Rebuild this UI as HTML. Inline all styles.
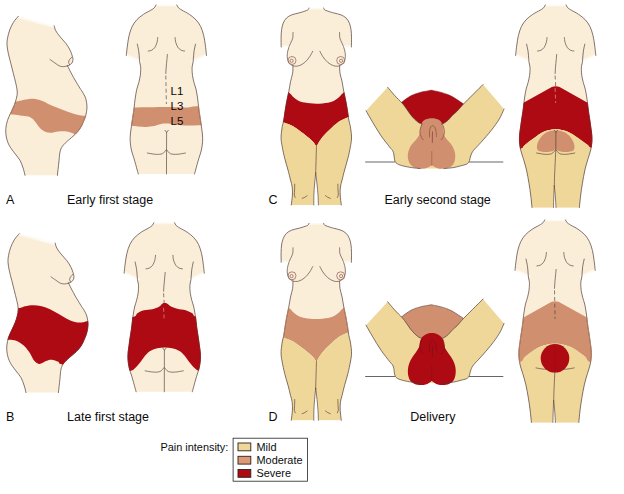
<!DOCTYPE html>
<html lang="en">
<head>
<meta charset="utf-8">
<title>Pain intensity by stage of labor</title>
<style>
html,body{margin:0;padding:0;background:#fff;}
body{width:624px;height:494px;overflow:hidden;position:relative;font-family:"Liberation Sans",Arial,sans-serif;}
svg{position:absolute;left:0;top:0;display:block;}
text{font-family:"Liberation Sans",Arial,sans-serif;}
.lbl{font-size:12.5px;fill:#0c0c0c;}
.leg{font-size:10.9px;fill:#0c0c0c;}
.vert{font-size:11.5px;fill:#0a0605;}
.o{fill:none;stroke:#4d3a36;stroke-width:0.7;stroke-linecap:round;stroke-linejoin:round;}
.i{fill:none;stroke:#503d38;stroke-width:0.65;stroke-linecap:round;stroke-linejoin:round;}
</style>
</head>
<body>
<svg width="624" height="494" viewBox="0 0 624 494">
<rect width="624" height="494" fill="#fff"/>
<defs>
<path id="sideB" d="M18.3 16.3C17.5 17.3 14.7 20.2 13.3 22.5C11.9 24.8 10.7 27.4 9.7 30C8.7 32.6 8 35.8 7.5 38.3C7 40.8 6.9 42.5 7 45C7.1 47.5 7.7 50.2 8.3 53.3C8.9 56.3 10 60 10.8 63.3C11.6 66.6 12.5 70 13.3 73.3C14.1 76.6 15.1 80.2 15.8 83.3C16.5 86.4 17.2 89.4 17.3 92C17.4 94.6 16.8 96.5 16.3 98.7C15.8 100.9 15.1 103 14.2 105.3C13.3 107.6 11.9 110.3 10.8 112.8C9.7 115.3 8.3 117.7 7.5 120.3C6.7 122.9 6 125.9 5.8 128.7C5.6 131.5 5.7 134.2 6.3 137C6.9 139.8 7.7 142.5 9.2 145.3C10.6 148.1 13.2 151.2 15 153.7C16.8 156.2 18.6 157.8 20 160.3C21.4 162.8 22.5 166.2 23.3 168.7C24.1 171.2 24.7 174.2 25 175.3L57.4 175.3C57.6 173.1 58.5 165.9 58.9 162C59.3 158.1 59.4 154.6 60 152C60.6 149.4 61.1 148.1 62.5 146.2C63.9 144.2 66.2 142.2 68.3 140.3C70.4 138.4 73 136.4 75 134.5C77 132.6 78.6 130.8 80 128.7C81.4 126.6 82.3 124.2 83.3 122C84.3 119.8 85.2 117.8 85.8 115.3C86.4 112.8 87 109.8 87 107C87 104.2 86.5 101.2 85.8 98.7C85 96.2 83.5 93.7 82.5 92C81.5 90.3 81.2 90.3 80 88.3C78.8 86.3 76.7 82.9 75 80C73.3 77.1 71.2 73.2 70 70.8C68.8 68.4 67.9 66.6 67.5 65.8L67.5 65.8C67.8 65.7 68.5 65.6 69.2 65.2C69.9 64.8 71.1 64.1 71.7 63.3C72.3 62.5 72.8 61.6 72.9 60.5C73 59.4 73 58.5 72.5 56.7C72 55 71.1 52.2 70 50C68.9 47.8 67.5 45.5 65.8 43.3C64.1 41.1 61.7 38.8 60 36.7C58.3 34.6 56.8 32.6 55.8 30.8C54.8 29 54.5 26.6 54.2 25.8Z"/>
<clipPath id="sideBC"><use href="#sideB"/></clipPath>
<path id="sideO" d="M18.3 16.3C17.5 17.3 14.7 20.2 13.3 22.5C11.9 24.8 10.7 27.4 9.7 30C8.7 32.6 8 35.8 7.5 38.3C7 40.8 6.9 42.5 7 45C7.1 47.5 7.7 50.2 8.3 53.3C8.9 56.3 10 60 10.8 63.3C11.6 66.6 12.5 70 13.3 73.3C14.1 76.6 15.1 80.2 15.8 83.3C16.5 86.4 17.2 89.4 17.3 92C17.4 94.6 16.8 96.5 16.3 98.7C15.8 100.9 15.1 103 14.2 105.3C13.3 107.6 11.9 110.3 10.8 112.8C9.7 115.3 8.3 117.7 7.5 120.3C6.7 122.9 6 125.9 5.8 128.7C5.6 131.5 5.7 134.2 6.3 137C6.9 139.8 7.7 142.5 9.2 145.3C10.6 148.1 13.2 151.2 15 153.7C16.8 156.2 18.6 157.8 20 160.3C21.4 162.8 22.5 166.2 23.3 168.7C24.1 171.2 24.7 174.2 25 175.3M54.2 25.8C54.5 26.6 54.8 29 55.8 30.8C56.8 32.6 58.3 34.6 60 36.7C61.7 38.8 64.1 41.1 65.8 43.3C67.5 45.5 68.9 47.8 70 50C71.1 52.2 72 55 72.5 56.7C73 58.5 73 59.4 72.9 60.5C72.8 61.6 72.3 62.5 71.7 63.3C71.1 64.1 69.9 64.8 69.2 65.2C68.5 65.6 67.8 65.7 67.5 65.8M67.5 65.8C67.9 66.6 68.8 68.4 70 70.8C71.2 73.2 73.3 77.1 75 80C76.7 82.9 78.8 86.3 80 88.3C81.2 90.3 81.5 90.3 82.5 92C83.5 93.7 85 96.2 85.8 98.7C86.5 101.2 87 104.2 87 107C87 109.8 86.4 112.8 85.8 115.3C85.2 117.8 84.3 119.8 83.3 122C82.3 124.2 81.4 126.6 80 128.7C78.6 130.8 77 132.6 75 134.5C73 136.4 70.4 138.4 68.3 140.3C66.2 142.2 63.9 144.2 62.5 146.2C61.1 148.1 60.6 149.4 60 152C59.4 154.6 59.3 158.1 58.9 162C58.5 165.9 57.6 173.1 57.4 175.3"/>
<path id="sideL" d="M50 59.5C50.8 60.1 53.5 62 55 63C56.5 64 57.8 65.2 59.2 65.8C60.6 66.4 61.9 66.7 63.3 66.7C64.7 66.7 66.8 66 67.5 65.8M71.8 57.2C71.4 57.6 70.1 58.6 69.6 59.5C69.1 60.4 68.6 61.4 68.6 62.3C68.6 63.1 69.4 64.2 69.6 64.6"/>
<clipPath id="r1"><path d="M3 103C5.1 102.8 12.4 102.1 15.8 101.6C19.2 101.1 20.4 100.5 23.3 100C26.2 99.5 30.2 98.7 33.3 98.8C36.4 98.9 38.9 99.8 41.7 100.8C44.5 101.8 47 103.4 50 104.7C53 106 56.7 107.5 60 108.8C63.3 110.1 67 111.5 70 112.5C73 113.5 75.9 114.5 78.3 115C80.7 115.5 81.9 115.7 84.2 115.8C86.5 115.9 90.7 115.6 92 115.6L92 126C90.1 126.4 83.1 127.1 80.5 128.5C77.9 129.9 77.6 133.4 76.2 134.2C74.8 134.9 73.6 133.4 72 133C70.4 132.6 69 131.8 66.7 131.6C64.4 131.3 61.1 131.3 58.3 131.5C55.5 131.7 52.5 132.9 50 132.8C47.5 132.7 45.2 131.9 43.3 130.8C41.3 129.7 40 127.9 38.3 126C36.6 124.1 35 121.2 33.3 119.6C31.6 118 30.5 117.3 28.3 116.6C26.1 115.9 23 115.9 20 115.5C17 115.1 13.1 114.5 10.3 114.3C7.5 114 4.2 114 3 114Z"/></clipPath>
<path id="r1p" d="M3 103C5.1 102.8 12.4 102.1 15.8 101.6C19.2 101.1 20.4 100.5 23.3 100C26.2 99.5 30.2 98.7 33.3 98.8C36.4 98.9 38.9 99.8 41.7 100.8C44.5 101.8 47 103.4 50 104.7C53 106 56.7 107.5 60 108.8C63.3 110.1 67 111.5 70 112.5C73 113.5 75.9 114.5 78.3 115C80.7 115.5 81.9 115.7 84.2 115.8C86.5 115.9 90.7 115.6 92 115.6L92 126C90.1 126.4 83.1 127.1 80.5 128.5C77.9 129.9 77.6 133.4 76.2 134.2C74.8 134.9 73.6 133.4 72 133C70.4 132.6 69 131.8 66.7 131.6C64.4 131.3 61.1 131.3 58.3 131.5C55.5 131.7 52.5 132.9 50 132.8C47.5 132.7 45.2 131.9 43.3 130.8C41.3 129.7 40 127.9 38.3 126C36.6 124.1 35 121.2 33.3 119.6C31.6 118 30.5 117.3 28.3 116.6C26.1 115.9 23 115.9 20 115.5C17 115.1 13.1 114.5 10.3 114.3C7.5 114 4.2 114 3 114Z"/>
<clipPath id="r2"><path d="M3 92C5.4 91.8 14.2 91.5 17.7 91C21.2 90.5 21.6 89.5 24 89C26.4 88.5 29.5 87.9 32.3 87.9C35.1 87.9 37.9 88.3 40.7 89C43.5 89.7 46.2 90.7 49 91.9C51.8 93.2 54.5 94.9 57.3 96.5C60.1 98.1 62.9 100 65.7 101.4C68.5 102.8 71.5 104.2 74 104.8C76.5 105.4 78.7 105.3 80.7 105.2C82.7 105.1 84.1 104.4 86 104C87.9 103.6 91 103.2 92 103L92 150C86.9 149.5 67.3 148.1 61.5 147.2C55.7 146.3 59.1 145.2 57.3 144.4C55.5 143.6 52.6 142.6 50.7 142.4C48.8 142.2 47.4 142.9 45.7 143.5C44 144.1 42.1 145.5 40.7 146C39.3 146.5 38.5 146.8 37.3 146.4C36 146 34.6 145.2 33.2 143.5C31.8 141.8 30.5 138.3 29 136C27.5 133.7 25.9 131.3 24 129.4C22.1 127.5 19.4 125.5 17.3 124.4C15.2 123.3 13.9 123 11.5 122.7C9.1 122.4 4.4 122.5 3 122.5Z"/></clipPath>
<path id="r2p" d="M3 92C5.4 91.8 14.2 91.5 17.7 91C21.2 90.5 21.6 89.5 24 89C26.4 88.5 29.5 87.9 32.3 87.9C35.1 87.9 37.9 88.3 40.7 89C43.5 89.7 46.2 90.7 49 91.9C51.8 93.2 54.5 94.9 57.3 96.5C60.1 98.1 62.9 100 65.7 101.4C68.5 102.8 71.5 104.2 74 104.8C76.5 105.4 78.7 105.3 80.7 105.2C82.7 105.1 84.1 104.4 86 104C87.9 103.6 91 103.2 92 103L92 150C86.9 149.5 67.3 148.1 61.5 147.2C55.7 146.3 59.1 145.2 57.3 144.4C55.5 143.6 52.6 142.6 50.7 142.4C48.8 142.2 47.4 142.9 45.7 143.5C44 144.1 42.1 145.5 40.7 146C39.3 146.5 38.5 146.8 37.3 146.4C36 146 34.6 145.2 33.2 143.5C31.8 141.8 30.5 138.3 29 136C27.5 133.7 25.9 131.3 24 129.4C22.1 127.5 19.4 125.5 17.3 124.4C15.2 123.3 13.9 123 11.5 122.7C9.1 122.4 4.4 122.5 3 122.5Z"/>
<linearGradient id="g1" gradientUnits="userSpaceOnUse" x1="18.3" y1="16.3" x2="17.6" y2="18.8"><stop offset="0" stop-color="#fff" stop-opacity="0.9"/><stop offset="1" stop-color="#fff" stop-opacity="0"/></linearGradient>
<path id="backSB" d="M156 5C155.7 5.5 155.2 6.9 154.3 7.8C153.4 8.7 152.6 9.1 150.8 10.2C149 11.3 145.7 12.8 143.4 14.4C141.1 16 138.7 17.8 136.8 19.8C134.9 21.8 133.4 24 132.1 26.6C130.8 29.2 129.9 32.4 129.1 35.5C128.3 38.6 128 41.7 127.5 45C127 48.3 126.5 53.7 126.3 55.4L139.5 61.5L139.7 62C139.8 62.8 140.4 65.1 140.6 66.5C140.8 67.9 140.8 69 140.7 70.5C140.6 72 140.6 73.5 140.3 75.5C140 77.5 139.4 80.2 138.8 82.5C138.2 84.8 137.4 86.8 136.8 89.2C136.2 91.6 135.8 94.7 135.4 97C135 99.3 134.9 100.8 134.6 103.3C134.3 105.8 134 108.9 133.6 111.7C133.2 114.5 132.7 117.3 132.3 120C131.9 122.7 131.5 125.7 131.2 128C130.9 130.3 130.6 131.7 130.4 134C130.2 136.3 130 139 130.2 141.7C130.4 144.4 130.8 147.2 131.4 150C132 152.8 133 155.2 134 158.5C135 161.8 136.5 167.4 137.2 170C137.9 172.6 138.1 173.3 138.3 174L194.5 174C194.7 173.3 194.9 172.6 195.6 170C196.3 167.4 197.8 161.8 198.8 158.5C199.8 155.2 200.8 152.8 201.4 150C202 147.2 202.4 144.4 202.6 141.7C202.8 139 202.6 136.3 202.4 134C202.2 131.7 201.9 130.3 201.6 128C201.3 125.7 200.9 122.7 200.5 120C200.1 117.3 199.6 114.5 199.2 111.7C198.8 108.9 198.5 105.8 198.2 103.3C197.9 100.8 197.8 99.3 197.4 97C197 94.7 196.6 91.6 196 89.2C195.4 86.8 194.6 84.8 194 82.5C193.4 80.2 192.8 77.5 192.5 75.5C192.2 73.5 192.2 72 192.1 70.5C192.1 69 192 67.9 192.2 66.5C192.4 65.1 193 62.8 193.1 62L193.5 61.5L206.5 55.4C206.3 53.7 205.8 48.3 205.3 45C204.8 41.7 204.5 38.6 203.7 35.5C202.9 32.4 202 29.2 200.7 26.6C199.4 24 197.9 21.8 196 19.8C194.1 17.8 191.7 16 189.4 14.4C187.1 12.8 183.8 11.3 182 10.2C180.2 9.1 179.4 8.7 178.5 7.8C177.6 6.9 177.1 5.5 176.8 5Z"/>
<clipPath id="backSBC"><use href="#backSB"/></clipPath>
<path id="backSO" d="M156 5C155.7 5.5 155.2 6.9 154.3 7.8C153.4 8.7 152.6 9.1 150.8 10.2C149 11.3 145.7 12.8 143.4 14.4C141.1 16 138.7 17.8 136.8 19.8C134.9 21.8 133.4 24 132.1 26.6C130.8 29.2 129.9 32.4 129.1 35.5C128.3 38.6 128 41.7 127.5 45C127 48.3 126.5 53.7 126.3 55.4M137.3 44.2C137.6 45.5 138.5 49.4 138.8 51.7C139.2 54.1 139.2 56.6 139.4 58.3C139.6 60 139.5 60.6 139.7 62C139.9 63.4 140.4 65.1 140.6 66.5C140.8 67.9 140.8 69 140.7 70.5C140.6 72 140.6 73.5 140.3 75.5C140 77.5 139.4 80.2 138.8 82.5C138.2 84.8 137.4 86.8 136.8 89.2C136.2 91.6 135.8 94.7 135.4 97C135 99.3 134.9 100.8 134.6 103.3C134.3 105.8 134 108.9 133.6 111.7C133.2 114.5 132.7 117.3 132.3 120C131.9 122.7 131.5 125.7 131.2 128C130.9 130.3 130.6 131.7 130.4 134C130.2 136.3 130 139 130.2 141.7C130.4 144.4 130.8 147.2 131.4 150C132 152.8 133 155.2 134 158.5C135 161.8 136.5 167.4 137.2 170C137.9 172.6 138.1 173.3 138.3 174M176.8 5C177.1 5.5 177.6 6.9 178.5 7.8C179.4 8.7 180.2 9.1 182 10.2C183.8 11.3 187.1 12.8 189.4 14.4C191.7 16 194.1 17.8 196 19.8C197.9 21.8 199.4 24 200.7 26.6C202 29.2 202.9 32.4 203.7 35.5C204.5 38.6 204.8 41.7 205.3 45C205.8 48.3 206.3 53.7 206.5 55.4M195.5 44.2C195.2 45.5 194.3 49.4 194 51.7C193.7 54.1 193.6 56.6 193.4 58.3C193.2 60 193.3 60.6 193.1 62C192.9 63.4 192.4 65.1 192.2 66.5C192 67.9 192.1 69 192.1 70.5C192.2 72 192.2 73.5 192.5 75.5C192.8 77.5 193.4 80.2 194 82.5C194.6 84.8 195.4 86.8 196 89.2C196.6 91.6 197 94.7 197.4 97C197.8 99.3 197.9 100.8 198.2 103.3C198.5 105.8 198.8 108.9 199.2 111.7C199.6 114.5 200.1 117.3 200.5 120C200.9 122.7 201.3 125.7 201.6 128C201.9 130.3 202.2 131.7 202.4 134C202.6 136.3 202.8 139 202.6 141.7C202.4 144.4 202 147.2 201.4 150C200.8 152.8 199.8 155.2 198.8 158.5C197.8 161.8 196.3 167.4 195.6 170C194.9 172.6 194.7 173.3 194.5 174"/>
<path id="backSL" d="M157.7 37.5C157.6 38.3 157.5 40.8 157 42.5C156.5 44.2 155.7 46.2 154.8 47.5C153.9 48.8 152.6 49.7 151.5 50.3C150.4 50.9 148.8 50.9 148.2 51M147.3 153C148.7 153.2 153.2 154.2 155.7 154.3C158.2 154.4 160.6 154.4 162.3 153.7C164 153 165.4 150.6 166 150M175.1 37.5C175.2 38.3 175.3 40.8 175.8 42.5C176.3 44.2 177.1 46.2 178 47.5C178.9 48.8 180.2 49.7 181.3 50.3C182.4 50.9 184.1 50.9 184.6 51M185.5 153C184.1 153.2 179.6 154.2 177.1 154.3C174.6 154.4 172.2 154.4 170.5 153.7C168.8 153 167.4 150.6 166.8 150M167.4 54.5C167 60 166.1 66 165.8 73.5M165 130.3L166.6 132.4L168.3 130.3M166.6 132.4L166.5 174"/>
<path id="backLB" d="M156 5C155.7 5.5 155.2 6.9 154.3 7.8C153.4 8.7 152.6 9.1 150.8 10.2C149 11.3 145.7 12.8 143.4 14.4C141.1 16 138.7 17.8 136.8 19.8C134.9 21.8 133.4 24 132.1 26.6C130.8 29.2 129.9 32.4 129.1 35.5C128.3 38.6 128 41.7 127.5 45C127 48.3 126.5 53.7 126.3 55.4L139.5 61.5L139.7 62C139.8 62.8 140.4 65.1 140.6 66.5C140.8 67.9 140.8 69 140.7 70.5C140.6 72 140.6 73.5 140.3 75.5C140 77.5 139.4 80.2 138.8 82.5C138.2 84.8 137.4 86.8 136.8 89.2C136.2 91.6 135.8 94.7 135.4 97C135 99.3 134.9 100.8 134.6 103.3C134.3 105.8 134 108.9 133.6 111.7C133.2 114.5 132.7 117.3 132.3 120C131.9 122.7 131.5 125.7 131.2 128C130.9 130.3 130.6 131.7 130.4 134C130.2 136.3 130 139 130.2 141.7C130.4 144.4 130.8 147.2 131.4 150C132 152.8 133 155.2 134 158.5C135 161.8 136.2 165.9 137.2 170C138.1 174.1 139 179.1 139.7 183.3C140.4 187.5 140.9 191 141.4 195C141.9 199 142.5 205.4 142.7 207.5L164.2 207.5C164.2 205.6 164.4 199.6 164.5 196C164.6 192.4 164.9 187.7 165 186L165 186C165.2 187.7 165.7 192.4 166 196C166.3 199.6 166.6 205.6 166.7 207.5L190.1 207.5C190.3 205.4 190.9 199 191.4 195C191.9 191 192.4 187.5 193.1 183.3C193.8 179.1 194.7 174.1 195.6 170C196.6 165.9 197.8 161.8 198.8 158.5C199.8 155.2 200.8 152.8 201.4 150C202 147.2 202.4 144.4 202.6 141.7C202.8 139 202.6 136.3 202.4 134C202.2 131.7 201.9 130.3 201.6 128C201.3 125.7 200.9 122.7 200.5 120C200.1 117.3 199.6 114.5 199.2 111.7C198.8 108.9 198.5 105.8 198.2 103.3C197.9 100.8 197.8 99.3 197.4 97C197 94.7 196.6 91.6 196 89.2C195.4 86.8 194.6 84.8 194 82.5C193.4 80.2 192.8 77.5 192.5 75.5C192.2 73.5 192.2 72 192.1 70.5C192.1 69 192 67.9 192.2 66.5C192.4 65.1 193 62.8 193.1 62L193.5 61.5L206.5 55.4C206.3 53.7 205.8 48.3 205.3 45C204.8 41.7 204.5 38.6 203.7 35.5C202.9 32.4 202 29.2 200.7 26.6C199.4 24 197.9 21.8 196 19.8C194.1 17.8 191.7 16 189.4 14.4C187.1 12.8 183.8 11.3 182 10.2C180.2 9.1 179.4 8.7 178.5 7.8C177.6 6.9 177.1 5.5 176.8 5Z"/>
<clipPath id="backLBC"><use href="#backLB"/></clipPath>
<path id="backLO" d="M156 5C155.7 5.5 155.2 6.9 154.3 7.8C153.4 8.7 152.6 9.1 150.8 10.2C149 11.3 145.7 12.8 143.4 14.4C141.1 16 138.7 17.8 136.8 19.8C134.9 21.8 133.4 24 132.1 26.6C130.8 29.2 129.9 32.4 129.1 35.5C128.3 38.6 128 41.7 127.5 45C127 48.3 126.5 53.7 126.3 55.4M137.3 44.2C137.6 45.5 138.5 49.4 138.8 51.7C139.2 54.1 139.2 56.6 139.4 58.3C139.6 60 139.5 60.6 139.7 62C139.9 63.4 140.4 65.1 140.6 66.5C140.8 67.9 140.8 69 140.7 70.5C140.6 72 140.6 73.5 140.3 75.5C140 77.5 139.4 80.2 138.8 82.5C138.2 84.8 137.4 86.8 136.8 89.2C136.2 91.6 135.8 94.7 135.4 97C135 99.3 134.9 100.8 134.6 103.3C134.3 105.8 134 108.9 133.6 111.7C133.2 114.5 132.7 117.3 132.3 120C131.9 122.7 131.5 125.7 131.2 128C130.9 130.3 130.6 131.7 130.4 134C130.2 136.3 130 139 130.2 141.7C130.4 144.4 130.8 147.2 131.4 150C132 152.8 133 155.2 134 158.5C135 161.8 136.2 165.9 137.2 170C138.1 174.1 139 179.1 139.7 183.3C140.4 187.5 140.9 191 141.4 195C141.9 199 142.5 205.4 142.7 207.5M176.8 5C177.1 5.5 177.6 6.9 178.5 7.8C179.4 8.7 180.2 9.1 182 10.2C183.8 11.3 187.1 12.8 189.4 14.4C191.7 16 194.1 17.8 196 19.8C197.9 21.8 199.4 24 200.7 26.6C202 29.2 202.9 32.4 203.7 35.5C204.5 38.6 204.8 41.7 205.3 45C205.8 48.3 206.3 53.7 206.5 55.4M195.5 44.2C195.2 45.5 194.3 49.4 194 51.7C193.7 54.1 193.6 56.6 193.4 58.3C193.2 60 193.3 60.6 193.1 62C192.9 63.4 192.4 65.1 192.2 66.5C192 67.9 192.1 69 192.1 70.5C192.2 72 192.2 73.5 192.5 75.5C192.8 77.5 193.4 80.2 194 82.5C194.6 84.8 195.4 86.8 196 89.2C196.6 91.6 197 94.7 197.4 97C197.8 99.3 197.9 100.8 198.2 103.3C198.5 105.8 198.8 108.9 199.2 111.7C199.6 114.5 200.1 117.3 200.5 120C200.9 122.7 201.3 125.7 201.6 128C201.9 130.3 202.2 131.7 202.4 134C202.6 136.3 202.8 139 202.6 141.7C202.4 144.4 202 147.2 201.4 150C200.8 152.8 199.8 155.2 198.8 158.5C197.8 161.8 196.6 165.9 195.6 170C194.7 174.1 193.8 179.1 193.1 183.3C192.4 187.5 191.9 191 191.4 195C190.9 199 190.3 205.4 190.1 207.5"/>
<path id="backLL" d="M157.7 37.5C157.6 38.3 157.5 40.8 157 42.5C156.5 44.2 155.7 46.2 154.8 47.5C153.9 48.8 152.6 49.7 151.5 50.3C150.4 50.9 148.8 50.9 148.2 51M147.3 153C148.7 153.2 153.2 154.2 155.7 154.3C158.2 154.4 160.6 154.4 162.3 153.7C164 153 165.4 150.6 166 150M175.1 37.5C175.2 38.3 175.3 40.8 175.8 42.5C176.3 44.2 177.1 46.2 178 47.5C178.9 48.8 180.2 49.7 181.3 50.3C182.4 50.9 184.1 50.9 184.6 51M185.5 153C184.1 153.2 179.6 154.2 177.1 154.3C174.6 154.4 172.2 154.4 170.5 153.7C168.8 153 167.4 150.6 166.8 150M167.4 54.5C167 60 166.1 66 165.8 73.5M165 130.3L166.6 132.4L168.3 130.3M166.6 132.4L166.5 150M166.5 150C166.4 151.7 166.2 155.8 166 160C165.8 164.2 165.5 170.7 165.3 175C165.1 179.3 165.1 184.2 165 186M165 186C164.9 187.7 164.6 192.4 164.5 196C164.4 199.6 164.2 205.6 164.2 207.5M165 186C165.2 187.7 165.7 192.4 166 196C166.3 199.6 166.6 205.6 166.7 207.5"/>
<linearGradient id="g2" gradientUnits="userSpaceOnUse" x1="154" y1="5" x2="154" y2="7"><stop offset="0" stop-color="#fff" stop-opacity="0.9"/><stop offset="1" stop-color="#fff" stop-opacity="0"/></linearGradient>
<linearGradient id="g3" gradientUnits="userSpaceOnUse" x1="126.3" y1="55.4" x2="127.3" y2="53.2"><stop offset="0" stop-color="#fff" stop-opacity="0.9"/><stop offset="1" stop-color="#fff" stop-opacity="0"/></linearGradient>
<linearGradient id="g4" gradientUnits="userSpaceOnUse" x1="193.3" y1="61.5" x2="192.3" y2="59.3"><stop offset="0" stop-color="#fff" stop-opacity="0.9"/><stop offset="1" stop-color="#fff" stop-opacity="0"/></linearGradient>
<clipPath id="r3"><path d="M120 107.6C122.5 107.6 130 107.5 135 107.4C140 107.4 144.8 107.4 150 107.3C155.2 107.2 160.2 107 166 107C171.8 107 180 107.7 185 107.6C190 107.5 191.5 106.6 196 106.2C200.5 105.8 209.3 105.2 212 105L212 125C209.8 125 203.5 125.1 199 125.2C194.5 125.3 189.5 125.7 185 125.5C180.5 125.3 175.2 124.3 172 124C168.8 123.7 167.8 123.6 166 123.6C164.2 123.6 163.3 123.5 161 123.9C158.7 124.4 154.7 125.8 152 126.3C149.3 126.8 147.3 127 145 127.1C142.7 127.1 140.3 126.8 138 126.6C135.7 126.4 134 126 131 125.8C128 125.6 121.8 125.5 120 125.5Z"/></clipPath>
<path id="r3p" d="M120 107.6C122.5 107.6 130 107.5 135 107.4C140 107.4 144.8 107.4 150 107.3C155.2 107.2 160.2 107 166 107C171.8 107 180 107.7 185 107.6C190 107.5 191.5 106.6 196 106.2C200.5 105.8 209.3 105.2 212 105L212 125C209.8 125 203.5 125.1 199 125.2C194.5 125.3 189.5 125.7 185 125.5C180.5 125.3 175.2 124.3 172 124C168.8 123.7 167.8 123.6 166 123.6C164.2 123.6 163.3 123.5 161 123.9C158.7 124.4 154.7 125.8 152 126.3C149.3 126.8 147.3 127 145 127.1C142.7 127.1 140.3 126.8 138 126.6C135.7 126.4 134 126 131 125.8C128 125.6 121.8 125.5 120 125.5Z"/>
<clipPath id="r4"><path d="M120 99.5C122.7 99.4 132.9 99.6 136.2 98.9C139.4 98.2 137.8 96.6 139.5 95.5C141.2 94.4 143.7 93.2 146.2 92.5C148.7 91.8 152 92 154.5 91.4C157 90.8 159.5 89.8 161.2 88.9C162.9 88 163.5 86.5 164.5 85.9C165.5 85.3 166.2 85.3 167 85.3C167.8 85.3 168.4 85.3 169.5 85.9C170.6 86.5 172 88.1 173.7 88.9C175.4 89.7 177.1 90.3 179.5 90.9C181.9 91.5 185.4 91.7 187.9 92.5C190.4 93.3 192.8 94.4 194.5 95.5C196.2 96.6 195 98.2 197.9 98.9C200.8 99.6 209.7 99.4 212 99.5L212 153.5C210.2 153.4 203.8 153.6 201.2 153C198.6 152.4 197.9 151.2 196.2 149.7C194.5 148.2 192.9 146 191.2 143.9C189.5 141.8 187.9 139 186.2 137.2C184.5 135.4 183.1 134.1 181.2 133C179.2 131.9 176.9 131.1 174.5 130.5C172.1 129.9 169.5 129.7 167 129.7C164.5 129.7 161.8 129.9 159.5 130.5C157.2 131.1 154.8 131.9 152.9 133C151 134.1 149.6 135.4 147.9 137.2C146.2 139 144.6 141.8 142.9 143.9C141.2 146 139.6 148.2 137.9 149.7C136.2 151.2 135.9 152.4 132.9 153C129.9 153.6 122.2 153.4 120 153.5Z"/></clipPath>
<path id="r4p" d="M120 99.5C122.7 99.4 132.9 99.6 136.2 98.9C139.4 98.2 137.8 96.6 139.5 95.5C141.2 94.4 143.7 93.2 146.2 92.5C148.7 91.8 152 92 154.5 91.4C157 90.8 159.5 89.8 161.2 88.9C162.9 88 163.5 86.5 164.5 85.9C165.5 85.3 166.2 85.3 167 85.3C167.8 85.3 168.4 85.3 169.5 85.9C170.6 86.5 172 88.1 173.7 88.9C175.4 89.7 177.1 90.3 179.5 90.9C181.9 91.5 185.4 91.7 187.9 92.5C190.4 93.3 192.8 94.4 194.5 95.5C196.2 96.6 195 98.2 197.9 98.9C200.8 99.6 209.7 99.4 212 99.5L212 153.5C210.2 153.4 203.8 153.6 201.2 153C198.6 152.4 197.9 151.2 196.2 149.7C194.5 148.2 192.9 146 191.2 143.9C189.5 141.8 187.9 139 186.2 137.2C184.5 135.4 183.1 134.1 181.2 133C179.2 131.9 176.9 131.1 174.5 130.5C172.1 129.9 169.5 129.7 167 129.7C164.5 129.7 161.8 129.9 159.5 130.5C157.2 131.1 154.8 131.9 152.9 133C151 134.1 149.6 135.4 147.9 137.2C146.2 139 144.6 141.8 142.9 143.9C141.2 146 139.6 148.2 137.9 149.7C136.2 151.2 135.9 152.4 132.9 153C129.9 153.6 122.2 153.4 120 153.5Z"/>
<clipPath id="r5"><path d="M110 116.4L162.5 87Q166.4 85.6 170.3 87L222.8 116.4L222 152C218.7 151.3 206.2 149 202.3 147.8C198.4 146.6 200 146.1 198.5 145C197 143.9 195.2 142.6 193.3 141.2C191.4 139.8 189 138.1 186.9 136.7C184.8 135.3 182.6 133.9 180.5 132.8C178.4 131.7 176.4 130.9 174.1 130.3C171.8 129.7 169 129.2 166.4 129.2C163.8 129.2 161 129.7 158.7 130.3C156.3 130.9 154.4 131.7 152.3 132.8C150.2 134 148 135.7 145.9 137.2C143.8 138.7 141.4 140.3 139.5 141.8C137.6 143.3 135.9 144.8 134.5 146C133.1 147.2 135.1 147.8 131 148.8C126.9 149.8 113.5 151.5 110 152Z"/></clipPath>
<path id="r5p" d="M110 116.4L162.5 87Q166.4 85.6 170.3 87L222.8 116.4L222 152C218.7 151.3 206.2 149 202.3 147.8C198.4 146.6 200 146.1 198.5 145C197 143.9 195.2 142.6 193.3 141.2C191.4 139.8 189 138.1 186.9 136.7C184.8 135.3 182.6 133.9 180.5 132.8C178.4 131.7 176.4 130.9 174.1 130.3C171.8 129.7 169 129.2 166.4 129.2C163.8 129.2 161 129.7 158.7 130.3C156.3 130.9 154.4 131.7 152.3 132.8C150.2 134 148 135.7 145.9 137.2C143.8 138.7 141.4 140.3 139.5 141.8C137.6 143.3 135.9 144.8 134.5 146C133.1 147.2 135.1 147.8 131 148.8C126.9 149.8 113.5 151.5 110 152Z"/>
<clipPath id="r6"><path d="M110 152C113.5 151.5 126.9 149.8 131 148.8C135.1 147.8 133.1 147.2 134.5 146C135.9 144.8 137.6 143.3 139.5 141.8C141.4 140.3 143.8 138.7 145.9 137.2C148 135.7 150.2 134 152.3 132.8C154.4 131.7 156.3 130.9 158.7 130.3C161 129.7 163.8 129.2 166.4 129.2C169 129.2 171.8 129.7 174.1 130.3C176.4 130.9 178.4 131.7 180.5 132.8C182.6 133.9 184.8 135.3 186.9 136.7C189 138.1 191.4 139.8 193.3 141.2C195.2 142.6 197 143.9 198.5 145C200 146.1 198.4 146.6 202.3 147.8C206.2 149 218.7 151.3 222 152L222 212L110 212Z"/></clipPath>
<path id="r6p" d="M110 152C113.5 151.5 126.9 149.8 131 148.8C135.1 147.8 133.1 147.2 134.5 146C135.9 144.8 137.6 143.3 139.5 141.8C141.4 140.3 143.8 138.7 145.9 137.2C148 135.7 150.2 134 152.3 132.8C154.4 131.7 156.3 130.9 158.7 130.3C161 129.7 163.8 129.2 166.4 129.2C169 129.2 171.8 129.7 174.1 130.3C176.4 130.9 178.4 131.7 180.5 132.8C182.6 133.9 184.8 135.3 186.9 136.7C189 138.1 191.4 139.8 193.3 141.2C195.2 142.6 197 143.9 198.5 145C200 146.1 198.4 146.6 202.3 147.8C206.2 149 218.7 151.3 222 152L222 212L110 212Z"/>
<clipPath id="r7"><path d="M110 116.4L162.5 87Q166.4 85.6 170.3 87L222.8 116.4L222 150C218.6 149.6 206 148.9 201.7 147.6C197.4 146.2 198.4 143.7 196.4 141.9C194.4 140.1 192.2 138.5 189.7 136.8C187.2 135.1 184.2 133.1 181.4 131.9C178.6 130.7 175.5 129.9 173 129.4C170.5 128.9 168.6 128.9 166.4 128.9C164.2 128.9 162.2 128.9 159.7 129.4C157.2 129.9 154.2 130.7 151.4 131.9C148.6 133.1 145.5 135.1 143 136.8C140.5 138.5 138.5 140.1 136.4 141.9C134.3 143.7 135.1 146.5 130.7 147.8C126.3 149.2 113.5 149.6 110 150Z"/></clipPath>
<path id="r7p" d="M110 116.4L162.5 87Q166.4 85.6 170.3 87L222.8 116.4L222 150C218.6 149.6 206 148.9 201.7 147.6C197.4 146.2 198.4 143.7 196.4 141.9C194.4 140.1 192.2 138.5 189.7 136.8C187.2 135.1 184.2 133.1 181.4 131.9C178.6 130.7 175.5 129.9 173 129.4C170.5 128.9 168.6 128.9 166.4 128.9C164.2 128.9 162.2 128.9 159.7 129.4C157.2 129.9 154.2 130.7 151.4 131.9C148.6 133.1 145.5 135.1 143 136.8C140.5 138.5 138.5 140.1 136.4 141.9C134.3 143.7 135.1 146.5 130.7 147.8C126.3 149.2 113.5 149.6 110 150Z"/>
<clipPath id="r8"><path d="M110 150C113.5 149.6 126.3 149.2 130.7 147.8C135.1 146.5 134.3 143.7 136.4 141.9C138.5 140.1 140.5 138.5 143 136.8C145.5 135.1 148.6 133.1 151.4 131.9C154.2 130.7 157.2 129.9 159.7 129.4C162.2 128.9 164.2 128.9 166.4 128.9C168.6 128.9 170.5 128.9 173 129.4C175.5 129.9 178.6 130.7 181.4 131.9C184.2 133.1 187.2 135.1 189.7 136.8C192.2 138.5 194.4 140.1 196.4 141.9C198.4 143.7 197.4 146.2 201.7 147.6C206 148.9 218.6 149.6 222 150L222 212L110 212Z"/></clipPath>
<path id="r8p" d="M110 150C113.5 149.6 126.3 149.2 130.7 147.8C135.1 146.5 134.3 143.7 136.4 141.9C138.5 140.1 140.5 138.5 143 136.8C145.5 135.1 148.6 133.1 151.4 131.9C154.2 130.7 157.2 129.9 159.7 129.4C162.2 128.9 164.2 128.9 166.4 128.9C168.6 128.9 170.5 128.9 173 129.4C175.5 129.9 178.6 130.7 181.4 131.9C184.2 133.1 187.2 135.1 189.7 136.8C192.2 138.5 194.4 140.1 196.4 141.9C198.4 143.7 197.4 146.2 201.7 147.6C206 148.9 218.6 149.6 222 150L222 212L110 212Z"/>
<clipPath id="r9"><path d="M166.4 130.6C165.5 130.7 162.8 130.6 161 131.1C159.2 131.6 157.2 132.3 155.5 133.5C153.8 134.7 152.2 136.4 151 138C149.8 139.6 148.9 141.4 148.3 143C147.7 144.6 147.5 146.2 147.6 147.5C147.7 148.8 148 149.9 148.9 150.6C149.8 151.3 151.3 151.6 153 151.8C154.7 152 157.2 152 159 151.9C160.8 151.8 162.3 151.7 163.5 151.1C164.7 150.5 165.9 149 166.4 148.6ZM166.4 130.6C167.3 130.7 170 130.6 171.8 131.1C173.6 131.6 175.6 132.3 177.3 133.5C179 134.7 180.6 136.4 181.8 138C183 139.6 183.9 141.4 184.5 143C185.1 144.6 185.3 146.2 185.2 147.5C185.1 148.8 184.8 149.9 183.9 150.6C183 151.3 181.5 151.6 179.8 151.8C178.1 152 175.6 152 173.8 151.9C172.1 151.8 170.5 151.7 169.3 151.1C168.1 150.5 166.9 149 166.4 148.6Z"/></clipPath>
<path id="r9p" d="M166.4 130.6C165.5 130.7 162.8 130.6 161 131.1C159.2 131.6 157.2 132.3 155.5 133.5C153.8 134.7 152.2 136.4 151 138C149.8 139.6 148.9 141.4 148.3 143C147.7 144.6 147.5 146.2 147.6 147.5C147.7 148.8 148 149.9 148.9 150.6C149.8 151.3 151.3 151.6 153 151.8C154.7 152 157.2 152 159 151.9C160.8 151.8 162.3 151.7 163.5 151.1C164.7 150.5 165.9 149 166.4 148.6ZM166.4 130.6C167.3 130.7 170 130.6 171.8 131.1C173.6 131.6 175.6 132.3 177.3 133.5C179 134.7 180.6 136.4 181.8 138C183 139.6 183.9 141.4 184.5 143C185.1 144.6 185.3 146.2 185.2 147.5C185.1 148.8 184.8 149.9 183.9 150.6C183 151.3 181.5 151.6 179.8 151.8C178.1 152 175.6 152 173.8 151.9C172.1 151.8 170.5 151.7 169.3 151.1C168.1 150.5 166.9 149 166.4 148.6Z"/>
<path id="frontB" d="M308.9 8C308.8 8.2 308.8 8.9 308.4 9.3C308 9.7 308.2 9.9 306.6 10.5C305.1 11.1 301.6 12.2 299.1 12.9C296.6 13.6 293.7 14 291.6 14.9C289.5 15.8 287.8 16.7 286.4 18.1C285 19.5 284 21.3 283.2 23.2C282.4 25.1 282 27.2 281.6 29.6C281.2 32 281.2 34.4 281.1 37.3C281 40.2 281.2 45.4 281.2 47L288.6 47L288 50C287.9 51.1 287.1 54.6 287.2 56.7C287.3 58.8 287.8 61 288.8 62.5C289.8 64 292.3 65.2 293 65.8L293 65.8C292.9 67 293 70.6 292.6 73.3C292.2 76 291.1 78.6 290.5 81.7C289.9 84.8 289.4 88.4 288.8 91.7C288.2 95 287.3 98.4 286.7 101.7C286.1 105 285.5 108.7 285 111.7C284.5 114.8 284.3 117.5 283.8 120C283.3 122.5 282.6 124.5 282.2 126.7C281.8 128.9 281.5 131.2 281.3 133.3C281.1 135.4 281 136.8 281.1 139C281.2 141.2 281.6 143.5 282.2 146.7C282.8 149.9 283.7 154.4 284.7 158.3C285.7 162.2 287 166.4 288 170C289 173.6 289.8 177.2 290.5 180C291.2 182.8 291.9 184.5 292.2 187C292.5 189.5 292.5 192 292.4 195C292.2 198 291.5 203.3 291.3 205L313.8 205C313.8 203.3 313.8 198.5 313.9 195C314 191.5 314.3 187.7 314.6 184C314.9 180.3 315.5 174.8 315.7 173L315.7 173C315.9 174.8 316.6 180.3 317 184C317.4 187.7 317.8 191.5 318 195C318.2 198.5 318.3 203.3 318.4 205L341.3 205C341.1 203.3 340.4 198 340.2 195C340.1 192 340.1 189.5 340.4 187C340.7 184.5 341.4 182.8 342.1 180C342.8 177.2 343.6 173.6 344.6 170C345.6 166.4 346.9 162.2 347.9 158.3C348.9 154.4 349.8 149.9 350.4 146.7C351 143.5 351.4 141.2 351.5 139C351.6 136.8 351.5 135.4 351.3 133.3C351.1 131.2 350.8 128.9 350.4 126.7C350 124.5 349.3 122.5 348.8 120C348.3 117.5 348.1 114.8 347.6 111.7C347.1 108.7 346.5 105 345.9 101.7C345.3 98.4 344.4 95 343.8 91.7C343.2 88.4 342.7 84.8 342.1 81.7C341.5 78.6 340.4 76 340 73.3C339.6 70.6 339.7 67 339.6 65.8L339.6 65.8C340.3 65.2 342.8 64 343.8 62.5C344.8 61 345.3 58.8 345.4 56.7C345.5 54.6 344.7 51.1 344.6 50L344 47L351.4 47C351.4 45.4 351.6 40.2 351.5 37.3C351.4 34.4 351.4 32 351 29.6C350.6 27.2 350.2 25.1 349.4 23.2C348.6 21.3 347.6 19.5 346.2 18.1C344.8 16.7 343.1 15.8 341 14.9C338.9 14 336 13.6 333.5 12.9C331 12.2 327.6 11.1 326 10.5C324.4 9.9 324.6 9.7 324.2 9.3C323.8 8.9 323.8 8.2 323.7 8Z"/>
<clipPath id="frontBC"><use href="#frontB"/></clipPath>
<path id="frontO" d="M308.9 8C308.8 8.2 308.8 8.9 308.4 9.3C308 9.7 308.2 9.9 306.6 10.5C305.1 11.1 301.6 12.2 299.1 12.9C296.6 13.6 293.7 14 291.6 14.9C289.5 15.8 287.8 16.7 286.4 18.1C285 19.5 284 21.3 283.2 23.2C282.4 25.1 282 27.2 281.6 29.6C281.2 32 281.2 34.4 281.1 37.3C281 40.2 281.2 45.4 281.2 47M323.7 8C323.8 8.2 323.8 8.9 324.2 9.3C324.6 9.7 324.4 9.9 326 10.5C327.6 11.1 331 12.2 333.5 12.9C336 13.6 338.9 14 341 14.9C343.1 15.8 344.8 16.7 346.2 18.1C347.6 19.5 348.6 21.3 349.4 23.2C350.2 25.1 350.6 27.2 351 29.6C351.4 32 351.4 34.4 351.5 37.3C351.6 40.2 351.4 45.4 351.4 47M293 65.8C292.9 67 293 70.6 292.6 73.3C292.2 76 291.1 78.6 290.5 81.7C289.9 84.8 289.4 88.4 288.8 91.7C288.2 95 287.3 98.4 286.7 101.7C286.1 105 285.5 108.7 285 111.7C284.5 114.8 284.3 117.5 283.8 120C283.3 122.5 282.6 124.5 282.2 126.7C281.8 128.9 281.5 131.2 281.3 133.3C281.1 135.4 281 136.8 281.1 139C281.2 141.2 281.6 143.5 282.2 146.7C282.8 149.9 283.7 154.4 284.7 158.3C285.7 162.2 287 166.4 288 170C289 173.6 289.8 177.2 290.5 180C291.2 182.8 291.9 184.5 292.2 187C292.5 189.5 292.5 192 292.4 195C292.2 198 291.5 203.3 291.3 205M339.6 65.8C339.7 67 339.6 70.6 340 73.3C340.4 76 341.5 78.6 342.1 81.7C342.7 84.8 343.2 88.4 343.8 91.7C344.4 95 345.3 98.4 345.9 101.7C346.5 105 347.1 108.7 347.6 111.7C348.1 114.8 348.3 117.5 348.8 120C349.3 122.5 350 124.5 350.4 126.7C350.8 128.9 351.1 131.2 351.3 133.3C351.5 135.4 351.6 136.8 351.5 139C351.4 141.2 351 143.5 350.4 146.7C349.8 149.9 348.9 154.4 347.9 158.3C346.9 162.2 345.6 166.4 344.6 170C343.6 173.6 342.8 177.2 342.1 180C341.4 182.8 340.7 184.5 340.4 187C340.1 189.5 340.1 192 340.2 195C340.4 198 341.1 203.3 341.3 205"/>
<path id="frontL" d="M293 32.5C292.9 33.5 293.1 36.5 292.7 38.3C292.3 40.1 291.3 41.3 290.5 43.3C289.7 45.2 288.6 47.8 288 50C287.4 52.2 287.1 54.6 287.2 56.7C287.3 58.8 287.8 61 288.8 62.5C289.8 64 291.3 65.2 293 65.8C294.7 66.3 296.9 66.3 298.8 65.8C300.8 65.2 302.9 64 304.7 62.5C306.5 61 308.4 58.6 309.7 56.7C311 54.8 312.2 52.2 312.7 51.3M339.6 32.5C339.7 33.5 339.5 36.5 339.9 38.3C340.3 40.1 341.3 41.3 342.1 43.3C342.9 45.2 344.1 47.8 344.6 50C345.2 52.2 345.5 54.6 345.4 56.7C345.3 58.8 344.8 61 343.8 62.5C342.8 64 341.3 65.2 339.6 65.8C337.9 66.3 335.8 66.3 333.8 65.8C331.9 65.2 329.7 64 327.9 62.5C326.1 61 324.2 58.6 322.9 56.7C321.6 54.8 320.4 52.2 319.9 51.3M294.7 184.2C294.7 185.2 294.7 188.2 294.6 190C294.5 191.8 294.2 193.8 294.3 195C294.4 196.2 295.1 197.1 295.3 197.5M337.9 184.2C337.9 185.2 337.9 188.2 338 190C338.1 191.8 338.4 193.8 338.3 195C338.2 196.2 337.5 197.1 337.3 197.5M302.2 198.3C302.6 198.1 304 197.8 304.8 197.3C305.6 196.9 306.8 195.9 307.2 195.6M330.4 198.3C330 198.1 328.6 197.8 327.8 197.3C327 196.9 325.8 195.9 325.4 195.6M316.5 145.8C316.4 147.3 316.3 151.8 316.2 155C316.1 158.2 316 162 315.9 165C315.8 168 315.7 171.7 315.7 173M315.7 173C315.5 174.8 314.9 180.3 314.6 184C314.3 187.7 314 191.5 313.9 195C313.8 198.5 313.8 203.3 313.8 205M315.7 173C315.9 174.8 316.6 180.3 317 184C317.4 187.7 317.8 191.5 318 195C318.2 198.5 318.3 203.3 318.4 205"/>
<clipPath id="r10"><path d="M270 80C273.1 82.1 285 89.7 288.8 92.5C292.6 95.3 291.5 95.5 293 96.8C294.5 98.1 296.1 99.4 298 100.4C299.9 101.4 301.6 102 304.7 102.6C307.8 103.1 312.4 103.7 316.3 103.7C320.2 103.7 325 103.2 328 102.7C331 102.2 332.6 101.4 334.5 100.4C336.4 99.4 337.9 98.1 339.5 96.8C341.1 95.5 340.1 95.3 343.8 92.5C347.6 89.7 359 82.1 362 80L362 112C359.6 112.9 351 115.9 347.4 117.4C343.8 118.9 342.8 119.2 340.3 120.8C337.8 122.4 334.9 124.8 332.2 127.2C329.5 129.6 326.2 132.9 324.1 135.2C322 137.5 320.9 139.2 319.6 141C318.3 142.8 317.5 145.6 316.5 145.8C315.5 146 314.7 143.6 313.5 142.3C312.3 141.1 311.4 140 309.4 138.3C307.4 136.6 304 133.9 301.3 131.9C298.6 129.9 296.1 127.9 293.2 126.3C290.3 124.7 287.8 123.6 283.9 122.4C280 121.2 272.3 119.6 270 119Z"/></clipPath>
<path id="r10p" d="M270 80C273.1 82.1 285 89.7 288.8 92.5C292.6 95.3 291.5 95.5 293 96.8C294.5 98.1 296.1 99.4 298 100.4C299.9 101.4 301.6 102 304.7 102.6C307.8 103.1 312.4 103.7 316.3 103.7C320.2 103.7 325 103.2 328 102.7C331 102.2 332.6 101.4 334.5 100.4C336.4 99.4 337.9 98.1 339.5 96.8C341.1 95.5 340.1 95.3 343.8 92.5C347.6 89.7 359 82.1 362 80L362 112C359.6 112.9 351 115.9 347.4 117.4C343.8 118.9 342.8 119.2 340.3 120.8C337.8 122.4 334.9 124.8 332.2 127.2C329.5 129.6 326.2 132.9 324.1 135.2C322 137.5 320.9 139.2 319.6 141C318.3 142.8 317.5 145.6 316.5 145.8C315.5 146 314.7 143.6 313.5 142.3C312.3 141.1 311.4 140 309.4 138.3C307.4 136.6 304 133.9 301.3 131.9C298.6 129.9 296.1 127.9 293.2 126.3C290.3 124.7 287.8 123.6 283.9 122.4C280 121.2 272.3 119.6 270 119Z"/>
<clipPath id="r11"><path d="M362 112C359.6 112.9 351 115.9 347.4 117.4C343.8 118.9 342.8 119.2 340.3 120.8C337.8 122.4 334.9 124.8 332.2 127.2C329.5 129.6 326.2 132.9 324.1 135.2C322 137.5 320.9 139.2 319.6 141C318.3 142.8 317.5 145.6 316.5 145.8C315.5 146 314.7 143.6 313.5 142.3C312.3 141.1 311.4 140 309.4 138.3C307.4 136.6 304 133.9 301.3 131.9C298.6 129.9 296.1 127.9 293.2 126.3C290.3 124.7 287.8 123.6 283.9 122.4C280 121.2 272.3 119.6 270 119L270 210L362 210Z"/></clipPath>
<path id="r11p" d="M362 112C359.6 112.9 351 115.9 347.4 117.4C343.8 118.9 342.8 119.2 340.3 120.8C337.8 122.4 334.9 124.8 332.2 127.2C329.5 129.6 326.2 132.9 324.1 135.2C322 137.5 320.9 139.2 319.6 141C318.3 142.8 317.5 145.6 316.5 145.8C315.5 146 314.7 143.6 313.5 142.3C312.3 141.1 311.4 140 309.4 138.3C307.4 136.6 304 133.9 301.3 131.9C298.6 129.9 296.1 127.9 293.2 126.3C290.3 124.7 287.8 123.6 283.9 122.4C280 121.2 272.3 119.6 270 119L270 210L362 210Z"/>
<linearGradient id="g5" gradientUnits="userSpaceOnUse" x1="306" y1="8" x2="306" y2="10"><stop offset="0" stop-color="#fff" stop-opacity="0.9"/><stop offset="1" stop-color="#fff" stop-opacity="0"/></linearGradient>
<linearGradient id="g6" gradientUnits="userSpaceOnUse" x1="281" y1="47" x2="281" y2="44.8"><stop offset="0" stop-color="#fff" stop-opacity="0.9"/><stop offset="1" stop-color="#fff" stop-opacity="0"/></linearGradient>
<linearGradient id="g7" gradientUnits="userSpaceOnUse" x1="343.6" y1="47" x2="343.6" y2="44.8"><stop offset="0" stop-color="#fff" stop-opacity="0.9"/><stop offset="1" stop-color="#fff" stop-opacity="0"/></linearGradient>
<path id="liB" d="M387.7 87.3C388.8 88.6 392.1 92.6 394.5 95.3C396.9 98 400.4 101.2 402.4 103.4C404.4 105.6 405.1 106.9 406.4 108.7C407.7 110.5 409 112.6 410.4 114.4C411.8 116.2 413.6 118.2 415 119.6C416.4 121 417.8 122.1 419 122.8C420.2 123.5 421.8 123.8 422.3 124L422.5 130L441.5 130L441.5 124C442 123.8 443.2 123.7 444.3 123C445.4 122.3 446.9 121.3 448.3 120C449.7 118.7 451 116.8 452.5 115.3C454 113.8 455.5 112.9 457.3 111C459.1 109.1 460.9 106.7 463.5 104C466.1 101.3 469.4 98 472.7 94.8C475.9 91.6 481.3 86.3 483 84.6L504 109L499.3 119C497.9 121 494.1 126.8 491 130.7C487.9 134.6 483.9 139 481 142.3C478.1 145.6 475.3 148.2 473.6 150.3C471.9 152.4 471.6 153.6 471 155C470.4 156.4 470.2 157.9 469.9 159C469.6 160.1 469.6 160.8 469 161.7C468.4 162.6 468 163.5 466.5 164.2C465 164.9 462.2 165.4 460 166C457.8 166.6 456 167.2 453.3 167.6C450.6 168 445.6 168.4 444 168.6L420 168.6L411.7 167.6C410.3 167.3 405.6 166.6 403.3 166C401 165.4 399 164.8 397.6 164C396.2 163.2 395.8 162.5 395.2 161.5C394.6 160.5 394.5 159.2 394.3 158C394.1 156.8 394.1 155.2 393.8 154C393.5 152.8 393.3 151.7 392.6 150.5C391.9 149.3 391.5 149.5 389.6 147C387.7 144.5 383.8 139.8 381 135.7C378.2 131.6 375.2 126.5 372.7 122.3C370.2 118.1 367.1 112.6 366 110.7Z"/>
<path id="liD" d="M399.5 104.3C400 103.9 400.4 103.2 402.3 101.8C404.2 100.4 407.9 97.4 411 95.8C414.1 94.2 418.2 93 421 92.2C423.8 91.4 426.3 91.2 428 90.9C429.7 90.6 430.1 90.3 431.2 90.3C432.3 90.3 432.9 90.6 434.5 90.9C436.1 91.2 438.2 91.6 441 92.4C443.8 93.2 447.2 94.1 451 96C454.8 97.9 461 102.3 463.5 104C466 105.7 465.4 105.8 465.8 106.2L450 124L444 128L420 128L410 122Z"/>
<path id="liDo" d="M399.5 104.3C400 103.9 400.4 103.2 402.3 101.8C404.2 100.4 407.9 97.4 411 95.8C414.1 94.2 418.2 93 421 92.2C423.8 91.4 426.3 91.2 428 90.9C429.7 90.6 430.1 90.3 431.2 90.3C432.3 90.3 432.9 90.6 434.5 90.9C436.1 91.2 438.2 91.6 441 92.4C443.8 93.2 447.2 94.1 451 96C454.8 97.9 461 102.3 463.5 104C466 105.7 465.4 105.8 465.8 106.2"/>
<path id="liP" d="M431.8 118.2C429.9 118.2 427.6 118.6 426 119.3C424.4 120 423.1 120.8 422.2 122.3C421.3 123.8 420.9 126.2 420.4 128.3C419.9 130.4 420 133.1 419.2 135C418.4 136.9 417.2 138.2 415.8 140C414.4 141.8 412.1 143.6 410.8 145.8C409.5 148 408.4 150.9 408 153.3C407.6 155.7 407.7 157.9 408.3 160C408.9 162.1 410 164.4 411.7 165.8C413.4 167.2 415.9 168.1 418.3 168.5C420.7 168.9 423.9 168.6 425.8 168.2C427.8 167.8 429 166.8 430 166.3C431 165.8 431.2 165.2 431.8 165.2C432.4 165.2 432.5 165.8 433.6 166.3C434.7 166.9 436.2 168.2 438.3 168.5C440.4 168.8 443.9 168.7 446.2 168.2C448.5 167.7 450.8 166.8 452.3 165.4C453.8 164 454.6 161.7 455 159.5C455.4 157.3 455.4 154.8 454.9 152.5C454.4 150.2 453.3 147.6 452 145.4C450.7 143.2 448.2 141.1 446.9 139.4C445.6 137.7 444.8 136.8 444.2 135C443.6 133.2 443.7 130.4 443.2 128.3C442.7 126.2 442.3 123.8 441.4 122.3C440.5 120.8 439.2 120 437.6 119.3C436 118.6 433.7 118.2 431.8 118.2Z"/>
<path id="liPD" d="M431.8 118.4C429.9 118.4 427.8 118.9 426.1 119.7C424.5 120.5 422.9 121.7 421.9 123C420.9 124.3 420.4 125.8 420 127.3C419.6 128.8 419.8 130.6 419.2 132.2C418.6 133.8 417.6 135.2 416.4 137C415.2 138.8 413.4 141.1 412.2 143.1C411 145.1 409.8 147.2 409.1 149.2C408.4 151.2 408 153.2 407.9 155.2C407.8 157.2 407.9 159.5 408.3 161.3C408.7 163.1 409.2 164.8 410.3 166.2C411.4 167.5 412.9 168.7 414.6 169.4C416.3 170.1 418.7 170.6 420.7 170.6C422.7 170.6 425.1 170.2 426.7 169.7C428.3 169.2 429.5 168.1 430.4 167.6C431.2 167.1 431.3 166.6 431.8 166.6C432.3 166.6 432.4 167.1 433.2 167.6C434.1 168.1 435.3 169.2 436.9 169.7C438.5 170.2 440.9 170.6 442.9 170.6C444.9 170.6 447.3 170.1 449 169.4C450.7 168.7 452.2 167.5 453.3 166.2C454.4 164.8 454.9 163.1 455.3 161.3C455.7 159.5 455.8 157.2 455.7 155.2C455.6 153.2 455.2 151.2 454.5 149.2C453.8 147.2 452.6 145.1 451.4 143.1C450.2 141.1 448.4 138.8 447.2 137C446 135.2 445 133.8 444.4 132.2C443.8 130.6 444.1 128.8 443.6 127.3C443.2 125.8 442.7 124.3 441.7 123C440.7 121.7 439.1 120.5 437.5 119.7C435.9 118.9 433.7 118.4 431.8 118.4Z"/>
<path id="liO" d="M387.7 87.3C388.8 88.6 392.1 92.6 394.5 95.3C396.9 98 400.4 101.2 402.4 103.4C404.4 105.6 405.1 106.9 406.4 108.7C407.7 110.5 409 112.6 410.4 114.4C411.8 116.2 413.6 118.2 415 119.6C416.4 121 417.8 122.1 419 122.8C420.2 123.5 421.8 123.8 422.3 124M366 110.7C367.1 112.6 370.2 118.1 372.7 122.3C375.2 126.5 378.2 131.6 381 135.7C383.8 139.8 387.7 144.5 389.6 147C391.5 149.5 391.9 149.3 392.6 150.5C393.3 151.7 393.5 152.8 393.8 154C394.1 155.2 394.1 156.8 394.3 158C394.5 159.2 394.6 160.5 395.2 161.5C395.8 162.5 396.2 163.2 397.6 164C399 164.8 401 165.4 403.3 166C405.6 166.6 408.9 167.2 411.7 167.6C414.5 168 418.6 168.4 420 168.6M483 84.6C481.3 86.3 475.9 91.6 472.7 94.8C469.4 98 466.1 101.3 463.5 104C460.9 106.7 459.1 109.1 457.3 111C455.5 112.9 454 113.8 452.5 115.3C451 116.8 449.7 118.7 448.3 120C446.9 121.3 445.4 122.3 444.3 123C443.2 123.7 442 123.8 441.5 124M504 109C503.2 110.7 501.5 115.4 499.3 119C497.1 122.6 494.1 126.8 491 130.7C487.9 134.6 483.9 139 481 142.3C478.1 145.6 475.3 148.2 473.6 150.3C471.9 152.4 471.6 153.6 471 155C470.4 156.4 470.2 157.9 469.9 159C469.6 160.1 469.6 160.8 469 161.7C468.4 162.6 468 163.5 466.5 164.2C465 164.9 462.2 165.4 460 166C457.8 166.6 456 167.2 453.3 167.6C450.6 168 445.6 168.4 444 168.6"/>
<path id="liL" d="M429.6 137C429.6 135.9 429.4 132.2 429.6 130.5C429.8 128.8 430.3 127.6 430.8 126.8C431.3 126 431.9 125.6 432.6 125.7C433.3 125.8 434.2 126.3 434.8 127.2C435.4 128.1 435.7 129.4 436 131C436.3 132.6 436.4 135.6 436.5 136.5M423.2 139.3C423 139.2 422.7 139.9 422.2 138.8C421.7 137.8 420.3 134.8 420 133C419.7 131.2 420.3 129.4 420.6 128C420.9 126.6 421.6 125.2 421.8 124.6M441 139.3C441.2 139.2 441.7 139.9 442.3 138.8C442.9 137.8 444.1 134.8 444.4 133C444.6 131.2 444.1 129.4 443.8 128C443.5 126.6 442.8 125.2 442.6 124.6"/>
</defs>
<!-- A: side view -->
<g transform="translate(0 0)"><use href="#sideB" fill="#fbeed8"/><g clip-path="url(#sideBC)"><path d="M16.5 15.2L56.3 25.7L55.5 28.8L15.7 18.3Z" fill="url(#g1)"/><use href="#r1p" fill="#d09070"/></g><use href="#sideO" class="o"/><use href="#sideO" class="o" stroke="#c68868" style="stroke:#c68868" clip-path="url(#r1)"/><use href="#sideL" class="i"/></g>
<!-- B: side view -->
<g transform="translate(1 217.3)"><use href="#sideB" fill="#fbeed8"/><g clip-path="url(#sideBC)"><path d="M16.5 15.2L56.3 25.7L55.5 28.8L15.7 18.3Z" fill="url(#g1)"/><use href="#r2p" fill="#ad0a13"/></g><use href="#sideO" class="o"/><use href="#sideO" class="o" stroke="#9d0a11" style="stroke:#9d0a11" clip-path="url(#r2)"/><use href="#sideL" class="i"/></g>
<!-- A: back view -->
<g transform="translate(0 0)"><use href="#backSB" fill="#fbeed8"/><g clip-path="url(#backSBC)"><path d="M152 4.4L181 4.4L181 7L152 7Z" fill="url(#g2)"/><path d="M124.2 55.1L141.1 62.9L142.3 60.2L125.5 52.4Z" fill="url(#g3)"/><path d="M191.7 62.9L208.6 55.1L207.3 52.4L190.5 60.2Z" fill="url(#g4)"/><use href="#r3p" fill="#d09070"/></g><path d="M165.8 75.5 L166.4 104" fill="none" stroke="#503d38" stroke-width="0.65" stroke-dasharray="4 2.6"/><use href="#backSO" class="o"/><use href="#backSO" class="o" stroke="#c68868" style="stroke:#c68868" clip-path="url(#r3)"/><use href="#backSL" class="i"/><text class="vert" x="170.5" y="95.4">L1</text><text class="vert" x="170.5" y="110.2">L3</text><text class="vert" x="170.5" y="124.9">L5</text></g>
<!-- B: back view -->
<g transform="translate(-2.2 217.8)"><use href="#backSB" fill="#fbeed8"/><g clip-path="url(#backSBC)"><path d="M152 4.4L181 4.4L181 7L152 7Z" fill="url(#g2)"/><path d="M124.2 55.1L141.1 62.9L142.3 60.2L125.5 52.4Z" fill="url(#g3)"/><path d="M191.7 62.9L208.6 55.1L207.3 52.4L190.5 60.2Z" fill="url(#g4)"/><use href="#r4p" fill="#ad0a13"/></g><path d="M165.8 75.5 L166.4 86" fill="none" stroke="#503d38" stroke-width="0.65" stroke-dasharray="4 2.6"/><path d="M165.8 90 L166.4 102.5" fill="none" stroke="#e9a9a0" stroke-width="0.6" stroke-dasharray="4 2.6"/><use href="#backSO" class="o"/><use href="#backSO" class="o" stroke="#9d0a11" style="stroke:#9d0a11" clip-path="url(#r4)"/><use href="#backSL" class="i"/></g>
<!-- C: back view -->
<g transform="translate(389.3 0)"><use href="#backLB" fill="#fbeed8"/><g clip-path="url(#backLBC)"><path d="M152 4.4L181 4.4L181 7L152 7Z" fill="url(#g2)"/><path d="M124.2 55.1L141.1 62.9L142.3 60.2L125.5 52.4Z" fill="url(#g3)"/><path d="M191.7 62.9L208.6 55.1L207.3 52.4L190.5 60.2Z" fill="url(#g4)"/><use href="#r5p" fill="#ad0a13"/><use href="#r6p" fill="#efd79a"/><use href="#r9p" fill="#d09070"/></g><path d="M165.8 75.5 L166.4 86" fill="none" stroke="#503d38" stroke-width="0.65" stroke-dasharray="4 2.6"/><path d="M165.8 88 L166.4 103" fill="none" stroke="#e9a9a0" stroke-width="0.6" stroke-dasharray="4 2.6"/><use href="#backLO" class="o"/><use href="#backLO" class="o" stroke="#9d0a11" style="stroke:#9d0a11" clip-path="url(#r5)"/><use href="#backLL" class="i"/></g>
<!-- D: back view -->
<g transform="translate(388.7 214.9)"><use href="#backLB" fill="#fbeed8"/><g clip-path="url(#backLBC)"><path d="M152 4.4L181 4.4L181 7L152 7Z" fill="url(#g2)"/><path d="M124.2 55.1L141.1 62.9L142.3 60.2L125.5 52.4Z" fill="url(#g3)"/><path d="M191.7 62.9L208.6 55.1L207.3 52.4L190.5 60.2Z" fill="url(#g4)"/><use href="#r7p" fill="#d09070"/><use href="#r8p" fill="#efd79a"/></g><path d="M165.8 75.5 L166.4 104" fill="none" stroke="#503d38" stroke-width="0.65" stroke-dasharray="4 2.6"/><use href="#backLO" class="o"/><use href="#backLO" class="o" stroke="#c68868" style="stroke:#c68868" clip-path="url(#r7)"/><use href="#backLL" class="i"/><circle cx="166.3" cy="143.4" r="14.3" fill="#ad0a13"/><path d="M166.4 131L166.3 157.5" fill="none" stroke="#9a0d13" stroke-width="0.6"/></g>
<!-- C: front view -->
<g transform="translate(0 0)"><use href="#frontB" fill="#fbeed8"/><g clip-path="url(#frontBC)"><path d="M304 7.4L329 7.4L329 10L304 10Z" fill="url(#g5)"/><path d="M279 47.6L291 47.6L291 44.8L279 44.8Z" fill="url(#g6)"/><path d="M341.6 47.6L353.6 47.6L353.6 44.8L341.6 44.8Z" fill="url(#g7)"/><use href="#r10p" fill="#ad0a13"/><use href="#r11p" fill="#efd79a"/></g><use href="#frontO" class="o"/><use href="#frontO" class="o" stroke="#9d0a11" style="stroke:#9d0a11" clip-path="url(#r10)"/><use href="#frontL" class="i"/><circle cx="292" cy="60.5" r="4" fill="none" stroke="#9a6860" stroke-width="0.8"/><circle cx="291.6" cy="60.8" r="1.6" fill="none" stroke="#9a6860" stroke-width="0.8"/><circle cx="340.7" cy="60.5" r="4" fill="none" stroke="#9a6860" stroke-width="0.8"/><circle cx="341.1" cy="60.8" r="1.6" fill="none" stroke="#9a6860" stroke-width="0.8"/></g>
<!-- D: front view -->
<g transform="translate(0 215.3)"><use href="#frontB" fill="#fbeed8"/><g clip-path="url(#frontBC)"><path d="M304 7.4L329 7.4L329 10L304 10Z" fill="url(#g5)"/><path d="M279 47.6L291 47.6L291 44.8L279 44.8Z" fill="url(#g6)"/><path d="M341.6 47.6L353.6 47.6L353.6 44.8L341.6 44.8Z" fill="url(#g7)"/><use href="#r10p" fill="#d09070"/><use href="#r11p" fill="#efd79a"/></g><use href="#frontO" class="o"/><use href="#frontO" class="o" stroke="#c68868" style="stroke:#c68868" clip-path="url(#r10)"/><use href="#frontL" class="i"/><circle cx="292" cy="60.5" r="4" fill="none" stroke="#9a6860" stroke-width="0.8"/><circle cx="291.6" cy="60.8" r="1.6" fill="none" stroke="#9a6860" stroke-width="0.8"/><circle cx="340.7" cy="60.5" r="4" fill="none" stroke="#9a6860" stroke-width="0.8"/><circle cx="341.1" cy="60.8" r="1.6" fill="none" stroke="#9a6860" stroke-width="0.8"/></g>
<!-- C: perineal view -->
<g transform="translate(0 0)"><path d="M365.2 162H395M469 162H503.3" fill="none" stroke="#555" stroke-width="0.9"/><use href="#liD" fill="#ad0a13"/><use href="#liDo" class="o" style="stroke:#7c0a0e;stroke-width:0.6"/><use href="#liB" fill="#efd79a"/><use href="#liP" fill="#d09070"/><use href="#liO" class="o"/><path d="M431.8 151.5L431.8 165.5" fill="none" stroke="#96564a" stroke-width="0.6" stroke-linecap="round"/><use href="#liL" fill="none" stroke="#96564a" stroke-width="0.85" stroke-linecap="round"/><path d="M432.5 132L432.3 142.5" fill="none" stroke="#96564a" stroke-width="1" stroke-linecap="round"/></g>
<!-- D: perineal view -->
<g transform="translate(0 214.5)"><path d="M365.2 162H395M469 162H503.3" fill="none" stroke="#555" stroke-width="0.9"/><use href="#liD" fill="#d09070"/><use href="#liDo" class="o" style="stroke:#5d4036;stroke-width:0.6"/><use href="#liB" fill="#efd79a"/><use href="#liPD" fill="#ad0a13"/><use href="#liO" class="o"/><path d="M431.8 151.5L431.8 165.5" fill="none" stroke="#7f1216" stroke-width="0.6" stroke-linecap="round"/><use href="#liL" fill="none" stroke="#7f1216" stroke-width="0.85" stroke-linecap="round"/><path d="M432.5 132L432.3 142.5" fill="none" stroke="#7f1216" stroke-width="1" stroke-linecap="round"/></g>
<!-- labels -->
<text class="lbl" x="6" y="204.3">A</text>
<text class="lbl" x="67" y="204.3">Early first stage</text>
<text class="lbl" x="6" y="421.3">B</text>
<text class="lbl" x="67" y="421.3">Late first stage</text>
<text class="lbl" x="268.5" y="204">C</text>
<text class="lbl" x="384.5" y="204">Early second stage</text>
<text class="lbl" x="268.5" y="421">D</text>
<text class="lbl" x="410.3" y="420.6">Delivery</text>
<!-- legend -->
<rect x="233.1" y="438.2" width="74.4" height="43" fill="#fff" stroke="#222" stroke-width="0.8"/>
<rect x="238" y="443" width="12.8" height="7.8" fill="#efd79a" stroke="#2e1f1a" stroke-width="0.9"/>
<rect x="238" y="456.3" width="12.8" height="7.8" fill="#dd9877" stroke="#2e1f1a" stroke-width="0.9"/>
<rect x="238" y="469.5" width="12.8" height="7.8" fill="#ad0a13" stroke="#2e1f1a" stroke-width="0.9"/>
<text class="leg" x="160.5" y="451">Pain intensity:</text>
<text class="leg" x="256.5" y="451">Mild</text>
<text class="leg" x="256.5" y="464">Moderate</text>
<text class="leg" x="256.5" y="477">Severe</text>
</svg>
</body>
</html>
